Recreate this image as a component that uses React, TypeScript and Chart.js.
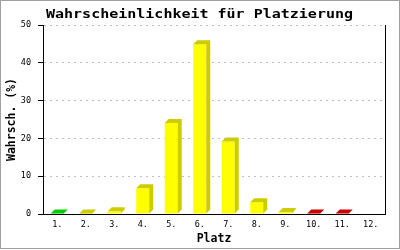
import React, { useEffect, useRef } from 'react';
import { Chart, registerables } from 'chart.js';

Chart.register(...registerables);

const titleText = 'Wahrscheinlichkeit für Platzierung';
const xAxisTitle = 'Platz';
const yAxisTitle = 'Wahrsch. (%)';
const categories = ['1.', '2.', '3.', '4.', '5.', '6.', '7.', '8.', '9.', '10.', '11.', '12.'];
const probabilities = [0.1, 0.1, 0.7, 6.8, 24.1, 44.9, 19.2, 3.1, 0.5, 0.1, 0.1, 0];
const yMin = 0;
const yMax = 50;
const yStep = 10;

const barColors = ['#00ff00', '#ffff00', '#ffff00', '#ffff00', '#ffff00', '#ffff00', '#ffff00', '#ffff00', '#ffff00', '#ff0000', '#ff0000', '#ffff00'];
const barShades = ['#00cc00', '#cccc00', '#cccc00', '#cccc00', '#cccc00', '#cccc00', '#cccc00', '#cccc00', '#cccc00', '#cc0000', '#cc0000', '#cccc00'];

const MONO = '"DejaVu Sans Mono", "Liberation Mono", monospace';

const bar3d = {
  id: 'bar3d',
  afterDatasetsDraw(chart: any) {
    const ctx = chart.ctx;
    const meta = chart.getDatasetMeta(0);
    const d = 4;
    meta.data.forEach((el: any, i: number) => {
      const v = probabilities[i];
      if (!(v > 0)) return;
      const { x, y, base, width } = el.getProps(['x', 'y', 'base', 'width'], true);
      const l = x - width / 2;
      const r = x + width / 2;
      ctx.save();
      ctx.fillStyle = barShades[i];
      ctx.beginPath();
      ctx.moveTo(l, y);
      ctx.lineTo(l + d, y - d);
      ctx.lineTo(r + d, y - d);
      ctx.lineTo(r + d, base - d);
      ctx.lineTo(r, base);
      ctx.lineTo(r, y);
      ctx.closePath();
      ctx.fill();
      ctx.restore();
    });
  },
};

const decor = {
  id: 'decor',
  beforeDraw(chart: any) {
    const ctx = chart.ctx;
    ctx.save();
    ctx.fillStyle = '#ffffff';
    ctx.fillRect(0, 0, chart.width, chart.height);
    ctx.restore();
  },
  afterDraw(chart: any) {
    const { ctx, chartArea } = chart;
    ctx.save();
    ctx.strokeStyle = '#000000';
    ctx.lineWidth = 1;
    const rx = Math.round(chartArea.right) + 0.5;
    ctx.beginPath();
    ctx.moveTo(rx, chartArea.top);
    ctx.lineTo(rx, chartArea.bottom + 1);
    ctx.stroke();
    ctx.restore();

    ctx.save();
    ctx.fillStyle = '#000000';
    ctx.font = 'bold 12px ' + MONO;
    ctx.textAlign = 'center';
    ctx.textBaseline = 'alphabetic';
    ctx.translate(199.5, 17.5);
    ctx.scale(1.25, 1);
    ctx.fillText(titleText, 0, 0);
    ctx.restore();

    ctx.save();
    ctx.strokeStyle = '#a0a0a0';
    ctx.lineWidth = 1;
    ctx.strokeRect(0.5, 0.5, 399, 248);
    ctx.restore();
  },
};

export default function App() {
  const canvasRef = useRef<HTMLCanvasElement | null>(null);

  useEffect(() => {
    if (!canvasRef.current) return;
    const chart = new Chart(canvasRef.current, {
      type: 'bar',
      data: {
        labels: categories,
        datasets: [
          {
            data: probabilities,
            backgroundColor: barColors,
            borderWidth: 0,
            barPercentage: 0.456,
            categoryPercentage: 1,
          },
        ],
      },
      options: {
        responsive: false,
        animation: false,
        devicePixelRatio: 1,
        layout: { padding: { top: 25, right: 15, left: 0, bottom: 0 } },
        plugins: {
          legend: { display: false },
          title: { display: false },
          tooltip: { enabled: false },
        },
        scales: {
          x: {
            grid: { display: false, drawTicks: false },
            border: { display: true, color: '#000000', width: 1 },
            ticks: {
              color: '#000000',
              font: { family: MONO, size: 8.5 },
              padding: 6,
              maxRotation: 0,
              autoSkip: false,
            },
            title: {
              display: true,
              text: xAxisTitle,
              color: '#000000',
              font: { family: MONO, size: 11.5, weight: 'bold' },
              padding: { top: 0, bottom: 4 },
            },
            afterFit(scale: any) {
              scale.height = 36;
            },
          },
          y: {
            min: yMin,
            max: yMax,
            ticks: {
              stepSize: yStep,
              color: '#000000',
              font: { family: MONO, size: 8.5 },
              padding: 7,
            },
            grid: {
              color: (c: any) => (c.tick && c.tick.value === 0 ? 'rgba(0,0,0,0)' : '#c0c0c0'),
              tickColor: '#000000',
              tickLength: 5,
              tickBorderDash: [],
              lineWidth: 1,
            },
            border: { display: true, color: '#000000', width: 1, dash: [2, 4] },
            title: {
              display: true,
              text: yAxisTitle,
              color: '#000000',
              font: { family: MONO, size: 11.5, weight: 'bold' },
              padding: { top: 5, bottom: 0 },
            },
            afterFit(scale: any) {
              scale.width = 43;
            },
          },
        },
      },
      plugins: [decor, bar3d],
    } as any);
    return () => chart.destroy();
  }, []);

  return (
    <div style={{ position: 'fixed', top: 0, left: 0, width: 400, height: 250 }}>
      <canvas ref={canvasRef} width={400} height={250} style={{ display: 'block' }} />
    </div>
  );
}
